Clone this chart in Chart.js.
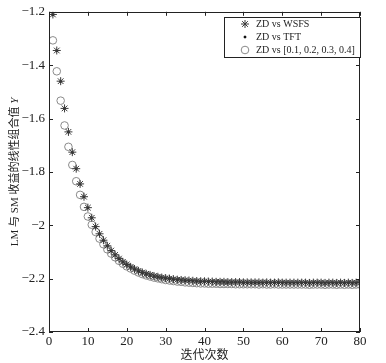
<!DOCTYPE html>
<html>
<head>
<meta charset="utf-8">
<script src="https://cdn.jsdelivr.net/npm/chart.js@4"></script>
<style>
  html, body { margin: 0; padding: 0; background: #fff; }
  canvas { display: block; }
</style>
</head>
<body>
<canvas id="chart" width="386" height="363"></canvas>
<script>
const fram = document.getElementById('chart');

// iteration numbers 1..80
const iterations = Array.from({ length: 80 }, (_, i) => i + 1);

// ZD vs WSFS (stars)
const wsfs = [
  -1.210, -1.345, -1.460, -1.562, -1.650, -1.726, -1.788, -1.845, -1.893, -1.934,
  -1.972, -2.005, -2.032, -2.056, -2.077, -2.095, -2.111, -2.125, -2.137, -2.147,
  -2.156, -2.164, -2.171, -2.177, -2.182, -2.186, -2.190, -2.193, -2.196, -2.198,
  -2.200, -2.202, -2.204, -2.205, -2.206, -2.207, -2.208, -2.209, -2.210, -2.210,
  -2.211, -2.211, -2.212, -2.212, -2.212, -2.213, -2.213, -2.213, -2.213, -2.214,
  -2.214, -2.214, -2.214, -2.214, -2.215, -2.214, -2.215, -2.215, -2.214, -2.215,
  -2.215, -2.215, -2.215, -2.215, -2.215, -2.215, -2.216, -2.215, -2.215, -2.215,
  -2.216, -2.215, -2.215, -2.216, -2.215, -2.216, -2.215, -2.216, -2.215, -2.215
];

// ZD vs TFT (dots, sitting in the star centres)
const tft = [
  -1.211, -1.346, -1.461, -1.563, -1.651, -1.727, -1.789, -1.846, -1.894, -1.935,
  -1.973, -2.006, -2.033, -2.057, -2.078, -2.096, -2.112, -2.126, -2.138, -2.148,
  -2.157, -2.165, -2.172, -2.178, -2.183, -2.187, -2.191, -2.194, -2.197, -2.199,
  -2.201, -2.203, -2.205, -2.206, -2.207, -2.208, -2.209, -2.210, -2.211, -2.211,
  -2.212, -2.212, -2.213, -2.213, -2.213, -2.214, -2.214, -2.214, -2.214, -2.215,
  -2.215, -2.215, -2.215, -2.215, -2.216, -2.215, -2.216, -2.216, -2.215, -2.216,
  -2.216, -2.216, -2.216, -2.216, -2.216, -2.216, -2.217, -2.216, -2.216, -2.216,
  -2.217, -2.216, -2.216, -2.217, -2.216, -2.217, -2.216, -2.217, -2.216, -2.216
];

// ZD vs [0.1, 0.2, 0.3, 0.4] (circles)
const fixedW = [
  -1.307, -1.423, -1.533, -1.626, -1.706, -1.774, -1.835, -1.886, -1.931, -1.967,
  -1.998, -2.025, -2.050, -2.071, -2.090, -2.106, -2.120, -2.133, -2.144, -2.154,
  -2.162, -2.170, -2.177, -2.183, -2.188, -2.192, -2.196, -2.199, -2.202, -2.205,
  -2.207, -2.209, -2.211, -2.212, -2.214, -2.215, -2.216, -2.217, -2.218, -2.218,
  -2.219, -2.219, -2.219, -2.220, -2.220, -2.220, -2.220, -2.221, -2.221, -2.221,
  -2.221, -2.221, -2.221, -2.222, -2.221, -2.222, -2.222, -2.221, -2.222, -2.222,
  -2.222, -2.222, -2.222, -2.222, -2.222, -2.222, -2.223, -2.222, -2.222, -2.222,
  -2.223, -2.222, -2.222, -2.223, -2.222, -2.223, -2.222, -2.223, -2.222, -2.222
];

const seriesLabels = ['ZD vs WSFS', 'ZD vs TFT', 'ZD vs [0.1, 0.2, 0.3, 0.4]'];
const xTicks = [0, 10, 20, 30, 40, 50, 60, 70, 80];
const yTicks = [-2.4, -2.2, -2, -1.8, -1.6, -1.4, -1.2];
const xTitle = '迭代次数';
const yTitle = 'LM 与 SM 收益的线性组合值 ';

const serif = '"Liberation Serif", "Times New Roman", "Noto Sans CJK SC", serif';
const cjk = '"Noto Sans CJK SC", sans-serif';

function pts(vals) {
  return vals.map((v, i) => ({ x: iterations[i], y: v }));
}

function fmt(v) {
  const n = Number(v.toFixed(1));
  return n < 0 ? '\u2212' + String(-n) : String(n);
}

const extras = {
  id: 'extras',
  afterDraw(chart) {
    const ctx = chart.ctx;
    const a = chart.chartArea;
    const xs = chart.scales.x;
    const ys = chart.scales.y;
    ctx.save();
    ctx.strokeStyle = '#222';
    ctx.lineWidth = 1;
    // box
    ctx.strokeRect(Math.round(a.left) + 0.5, Math.round(a.top) + 0.5,
      Math.round(a.right - a.left) - 1, Math.round(a.bottom - a.top) - 1);
    // inward ticks on all sides
    ctx.beginPath();
    xTicks.forEach(t => {
      const px = Math.round(xs.getPixelForValue(t)) + 0.5;
      ctx.moveTo(px, a.bottom); ctx.lineTo(px, a.bottom - 4);
      ctx.moveTo(px, a.top); ctx.lineTo(px, a.top + 4);
    });
    yTicks.forEach(t => {
      const py = Math.round(ys.getPixelForValue(t)) + 0.5;
      ctx.moveTo(a.left, py); ctx.lineTo(a.left + 4, py);
      ctx.moveTo(a.right, py); ctx.lineTo(a.right - 4, py);
    });
    ctx.stroke();

    // legend
    const lx = 224.5, ly = 17.5, lw = 136, lh = 40;
    ctx.fillStyle = '#fff';
    ctx.fillRect(lx, ly, lw, lh);
    ctx.strokeRect(lx, ly, lw, lh);
    const rows = [24, 37, 50];
    chart.data.datasets.forEach((ds, i) => {
      ctx.save();
      ctx.strokeStyle = ds.borderColor;
      ctx.fillStyle = ds.backgroundColor;
      ctx.lineWidth = ds.borderWidth;
      Chart.helpers.drawPoint(ctx, {
        pointStyle: ds.pointStyle,
        radius: ds.pointRadius,
        rotation: 0,
        borderWidth: ds.borderWidth
      }, 245, rows[i]);
      ctx.restore();
      ctx.fillStyle = '#222';
      ctx.font = '10px ' + serif;
      ctx.textBaseline = 'middle';
      ctx.textAlign = 'left';
      ctx.fillText(ds.label, 256, rows[i] + 0.5, 100);
    });

    // rotated y title
    ctx.translate(15, (a.top + a.bottom) / 2);
    ctx.rotate(-Math.PI / 2);
    ctx.fillStyle = '#222';
    ctx.textBaseline = 'middle';
    ctx.font = '11px ' + serif;
    const w1 = ctx.measureText(yTitle).width;
    ctx.font = 'italic 11px ' + serif;
    const w2 = ctx.measureText('Y').width;
    const start = -(w1 + w2) / 2;
    ctx.textAlign = 'left';
    ctx.font = '11px ' + serif;
    ctx.fillText(yTitle, start, 0);
    ctx.font = 'italic 11px ' + serif;
    ctx.fillText('Y', start + w1, 0);
    ctx.restore();
  }
};

new Chart(fram, {
  type: 'scatter',
  data: {
    datasets: [
      {
        label: seriesLabels[0],
        data: pts(wsfs),
        pointStyle: 'star',
        pointRadius: 4,
        borderWidth: 1,
        borderColor: '#3a3a3a',
        backgroundColor: '#3a3a3a'
      },
      {
        label: seriesLabels[1],
        data: pts(tft),
        pointStyle: 'circle',
        pointRadius: 1,
        borderWidth: 1,
        borderColor: '#000',
        backgroundColor: '#000'
      },
      {
        label: seriesLabels[2],
        data: pts(fixedW),
        pointStyle: 'circle',
        pointRadius: 3.8,
        borderWidth: 1,
        borderColor: '#8a8a8a',
        backgroundColor: 'rgba(0,0,0,0)'
      }
    ]
  },
  options: {
    responsive: false,
    animation: false,
    events: [],
    layout: { padding: { top: 8, right: 26, left: 0, bottom: 0 } },
    plugins: {
      legend: { display: false },
      tooltip: { enabled: false }
    },
    scales: {
      x: {
        type: 'linear',
        min: 0,
        max: 80,
        afterBuildTicks: s => { s.ticks = xTicks.map(v => ({ value: v })); },
        afterFit: s => { s.height = 31; },
        grid: { display: false, drawTicks: false },
        border: { display: false },
        ticks: {
          padding: 2,
          color: '#222',
          font: { family: serif, size: 13 },
          maxRotation: 0
        },
        title: {
          display: true,
          text: xTitle,
          color: '#222',
          font: { family: cjk, size: 12 },
          padding: { top: 0, bottom: 1 }
        }
      },
      y: {
        type: 'linear',
        min: -2.4,
        max: -1.2,
        afterBuildTicks: s => { s.ticks = yTicks.map(v => ({ value: v })); },
        afterFit: s => { s.width = 49; },
        grid: { display: false, drawTicks: false },
        border: { display: false },
        ticks: {
          padding: 4,
          color: '#222',
          font: { family: serif, size: 13 },
          callback: v => fmt(v)
        }
      }
    }
  },
  plugins: [extras]
});
</script>
</body>
</html>
